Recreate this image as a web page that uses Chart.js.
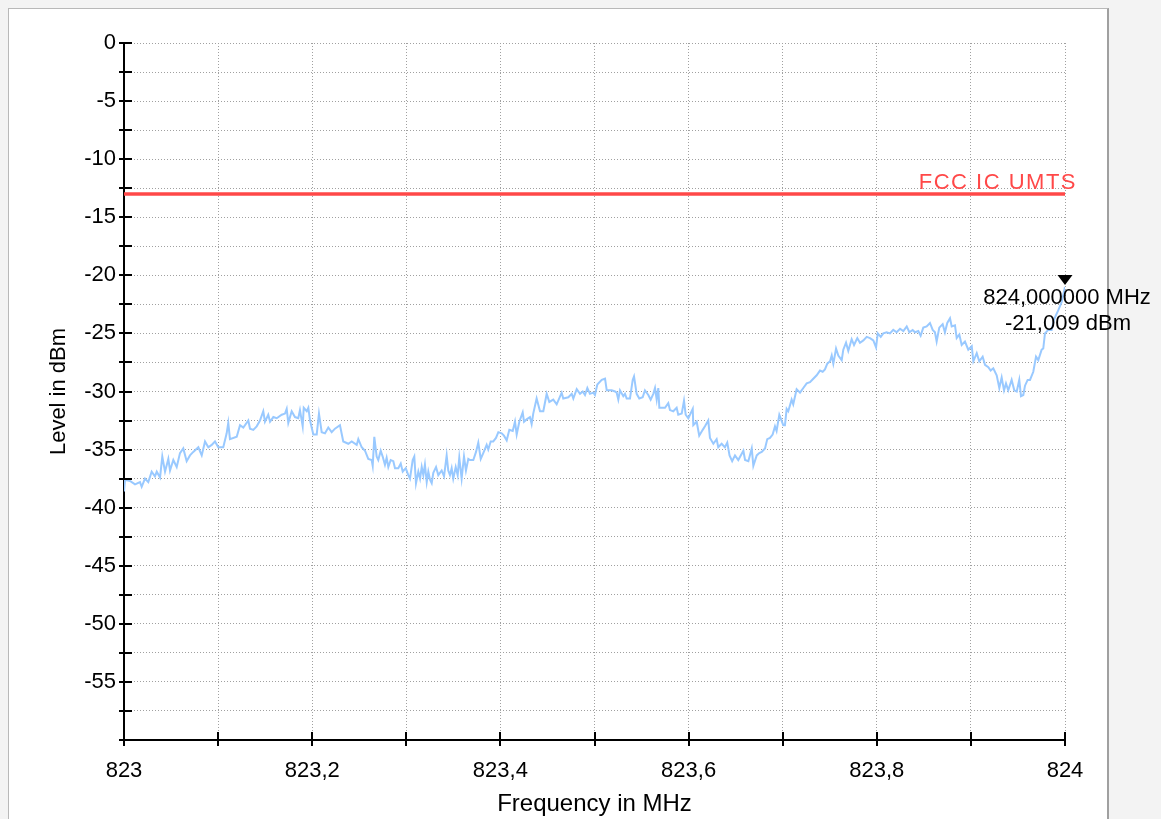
<!DOCTYPE html>
<html>
<head>
<meta charset="utf-8">
<script src="https://cdn.jsdelivr.net/npm/chart.js@4.4.1/dist/chart.umd.min.js"></script>
<style>
  html, body { margin: 0; padding: 0; background: #f3f3f3; overflow: hidden; }
  #frame { position: absolute; left: 8px; top: 8px; width: 1098px; height: 830px; background: #fff;
           border-left: 1px solid #b8b8b8; border-top: 1px solid #b8b8b8; border-right: 2px solid #a0a0a0; }
  #chart { position: absolute; left: 0; top: 0; }
</style>
</head>
<body>
<div id="frame"></div>
<canvas id="chart" width="1161" height="819"></canvas>
<script>
// spectrum trace (MHz / dBm)
const freqMHz = [
  823.0000, 823.0011, 823.0064, 823.0117, 823.0170, 823.0188, 823.0223, 823.0258, 823.0294, 823.0329,
  823.0348, 823.0383, 823.0407, 823.0436, 823.0471, 823.0489, 823.0524, 823.0560, 823.0595, 823.0630,
  823.0666, 823.0701, 823.0736, 823.0790, 823.0826, 823.0861, 823.0896, 823.0932, 823.0967, 823.1002,
  823.1055, 823.1091, 823.1108, 823.1126, 823.1198, 823.1233, 823.1268, 823.1321, 823.1339, 823.1374,
  823.1410, 823.1445, 823.1480, 823.1498, 823.1533, 823.1552, 823.1587, 823.1623, 823.1676, 823.1711,
  823.1729, 823.1746, 823.1782, 823.1817, 823.1852, 823.1870, 823.1899, 823.1910, 823.1942, 823.1959,
  823.1977, 823.2012, 823.2048, 823.2072, 823.2101, 823.2136, 823.2171, 823.2207, 823.2242, 823.2295,
  823.2330, 823.2384, 823.2420, 823.2473, 823.2490, 823.2526, 823.2561, 823.2596,
  823.2632, 823.2643, 823.2660, 823.2685, 823.2702, 823.2728, 823.2749, 823.2773, 823.2791, 823.2809,
  823.2834, 823.2862, 823.2880, 823.2915, 823.2941, 823.2962, 823.2994, 823.3021, 823.3039, 823.3068,
  823.3085, 823.3103, 823.3128, 823.3146, 823.3164, 823.3181, 823.3198, 823.3217, 823.3234, 823.3252,
  823.3270, 823.3287, 823.3316, 823.3340, 823.3376, 823.3401, 823.3429, 823.3446, 823.3464, 823.3482,
  823.3499, 823.3525, 823.3546, 823.3563, 823.3588, 823.3613, 823.3634, 823.3659, 823.3677, 823.3712,
  823.3741, 823.3765, 823.3791, 823.3818, 823.3854, 823.3871, 823.3897, 823.3924, 823.3953, 823.3978,
  823.4014, 823.4038, 823.4067, 823.4095, 823.4131, 823.4155, 823.4173, 823.4201, 823.4237, 823.4251,
  823.4279, 823.4314, 823.4332, 823.4349, 823.4385, 823.4421, 823.4456, 823.4492, 823.4520, 823.4562,
  823.4598, 823.4651, 823.4668, 823.4722, 823.4758, 823.4775, 823.4811, 823.4846, 823.4875, 823.4899,
  823.4924, 823.4952, 823.4987, 823.5005, 823.5030, 823.5077, 823.5112, 823.5130,
  823.5183, 823.5218, 823.5236, 823.5253, 823.5271, 823.5306, 823.5324, 823.5342, 823.5377, 823.5406,
  823.5420, 823.5448, 823.5476, 823.5512, 823.5536, 823.5572, 823.5597, 823.5625, 823.5643, 823.5661,
  823.5678, 823.5689, 823.5714, 823.5749, 823.5784, 823.5802, 823.5837, 823.5873, 823.5890, 823.5927,
  823.5951, 823.5969, 823.5997, 823.6044, 823.6050, 823.6086, 823.6113, 823.6150, 823.6174, 823.6209,
  823.6227, 823.6263, 823.6298, 823.6315, 823.6351, 823.6386, 823.6411, 823.6435, 823.6463, 823.6493,
  823.6528, 823.6582, 823.6600, 823.6635, 823.6671, 823.6688, 823.6724, 823.6751, 823.6777, 823.6812,
  823.6836, 823.6865, 823.6893, 823.6918, 823.6935, 823.6964, 823.7006, 823.7024, 823.7042, 823.7059,
  823.7095, 823.7112, 823.7148, 823.7184,
  823.7219, 823.7255, 823.7290, 823.7325, 823.7361, 823.7396, 823.7425, 823.7449, 823.7474, 823.7503,
  823.7521, 823.7538, 823.7567, 823.7591, 823.7627, 823.7644, 823.7673, 823.7697, 823.7733, 823.7758,
  823.7793, 823.7821, 823.7857, 823.7893, 823.7928, 823.7963, 823.7992, 823.8010, 823.8042, 823.8069,
  823.8105, 823.8140, 823.8175, 823.8211, 823.8247, 823.8282, 823.8318, 823.8346, 823.8381, 823.8406,
  823.8441, 823.8466, 823.8494, 823.8530, 823.8565, 823.8594, 823.8618, 823.8636, 823.8664, 823.8700,
  823.8724, 823.8749, 823.8778, 823.8796, 823.8831, 823.8849, 823.8877, 823.8902, 823.8937, 823.8972,
  823.9009, 823.9026, 823.9062, 823.9089, 823.9125, 823.9150, 823.9185, 823.9210, 823.9238, 823.9274,
  823.9302, 823.9327, 823.9352, 823.9373, 823.9397, 823.9433, 823.9461, 823.9487, 823.9514, 823.9532,
  823.9557, 823.9575, 823.9603, 823.9628, 823.9663, 823.9692, 823.9716, 823.9752, 823.9769, 823.9787,
  823.9822, 823.9858, 823.9883, 823.9929, 823.9965, 824.0000
];
const levelDbm = [
  -38.6, -37.6, -37.7, -38.0, -37.8, -38.2, -37.5, -37.8, -36.9, -37.3,
  -36.9, -37.4, -35.6, -36.9, -35.8, -36.8, -35.9, -36.5, -35.3, -34.9,
  -36.0, -35.5, -35.2, -34.8, -35.5, -34.3, -34.8, -34.6, -34.3, -34.8,
  -34.8, -33.6, -32.7, -34.1, -33.9, -32.9, -33.1, -32.5, -33.2, -33.3,
  -33.0, -32.5, -31.7, -32.6, -32.0, -32.6, -32.2, -32.3, -32.0, -31.9,
  -31.5, -32.7, -31.7, -32.2, -32.3, -31.6, -33.0, -31.4, -31.7, -31.4,
  -32.5, -33.7, -33.7, -31.9, -33.5, -33.6, -33.1, -33.5, -33.2, -32.9,
  -34.3, -34.5, -34.3, -34.6, -34.1, -34.8, -35.1, -35.8,
  -35.9, -36.4, -33.9, -35.6, -35.9, -35.1, -35.6, -36.3, -35.7, -36.5,
  -35.9, -36.0, -36.6, -36.6, -36.2, -36.9, -36.6, -37.2, -37.5, -35.9,
  -35.6, -37.9, -36.9, -37.5, -36.5, -37.2, -36.3, -37.8, -36.9, -37.6,
  -37.9, -37.0, -36.5, -37.2, -36.8, -37.3, -35.5, -36.8, -37.2, -36.6,
  -37.5, -36.5, -37.2, -35.7, -37.5, -35.6, -36.8, -35.8, -35.9, -35.9,
  -35.2, -34.4, -35.8, -35.3, -34.6, -35.0, -34.3, -34.3, -34.0, -33.5,
  -33.6, -33.8, -34.2, -33.3, -33.4, -32.6, -33.7, -32.6, -31.8, -32.6,
  -32.4, -32.2, -32.8, -31.9, -30.6, -31.7, -31.7, -30.2, -30.9, -30.7,
  -31.1, -30.1, -30.6, -30.5, -30.2, -30.6, -29.8, -30.2, -30.0, -30.3,
  -29.7, -30.2, -30.1, -30.3, -29.4, -29.0, -28.9, -29.9,
  -29.9, -30.0, -30.1, -30.7, -29.9, -30.4, -30.2, -30.6, -30.6, -29.0,
  -28.7, -30.2, -30.6, -30.5, -29.9, -30.3, -30.7, -30.2, -29.7, -30.7,
  -29.7, -31.4, -31.4, -31.4, -31.0, -31.6, -31.7, -31.4, -32.0, -31.9,
  -30.8, -32.0, -32.3, -31.5, -32.9, -32.6, -33.8, -33.3, -33.0, -32.5,
  -34.0, -34.5, -34.1, -34.8, -34.5, -34.8, -34.4, -35.5, -36.0, -35.5,
  -35.9, -35.1, -35.9, -36.0, -34.9, -36.4, -35.5, -35.3, -35.2, -34.9,
  -34.1, -34.0, -33.7, -33.0, -33.4, -32.0, -32.9, -32.9, -31.5, -31.7,
  -30.7, -31.1, -29.8, -30.1,
  -29.7, -29.3, -29.2, -28.9, -28.6, -28.2, -28.3, -28.1, -27.6, -27.4,
  -26.9, -27.6, -26.3, -26.9, -27.3, -26.4, -25.8, -26.5, -25.5, -26.0,
  -25.4, -25.8, -25.6, -25.3, -25.4, -25.6, -26.2, -25.0, -25.3, -25.0,
  -24.9, -25.0, -24.7, -24.9, -24.6, -24.8, -24.4, -24.9, -24.7, -24.9,
  -24.8, -25.2, -24.5, -24.4, -24.1, -24.7, -24.9, -25.7, -24.5, -24.2,
  -24.9, -24.1, -23.7, -24.4, -24.3, -25.4, -25.1, -26.0, -25.7, -26.4,
  -26.1, -27.4, -26.7, -27.4, -27.0, -27.7, -27.9, -28.2, -28.0, -28.6,
  -29.7, -28.8, -29.9, -29.3, -29.9, -29.0, -29.9, -30.0, -29.0, -30.4,
  -30.3, -29.5, -29.0, -29.0, -28.3, -27.0, -27.3, -26.4, -26.3, -25.0,
  -24.7, -24.7, -23.8, -23.0, -22.3, -21.009
];

// limit line
const limitName = 'FCC IC UMTS';
const limitFreq = [823, 824];
const limitLevel = [-13, -13];

// marker
const markerFreq = 824;
const markerLevel = -21.009;

const fontFamily = '"Liberation Sans", Arial, sans-serif';
Chart.defaults.font.family = fontFamily;
Chart.defaults.font.size = 22;
Chart.defaults.color = '#000';

const comma = (v, d) => v.toFixed(d).replace('.', ',');

const decor = {
  id: 'decor',
  afterDraw(chart) {
    const { ctx, chartArea, scales: { x, y } } = chart;
    ctx.save();
    ctx.strokeStyle = '#000';
    ctx.lineWidth = 2;
    // tick marks crossing the axes
    y.ticks.forEach(t => {
      const py = Math.round(y.getPixelForValue(t.value));
      ctx.beginPath();
      ctx.moveTo(chartArea.left - 5, py);
      ctx.lineTo(chartArea.left + 8, py);
      ctx.stroke();
    });
    x.ticks.forEach(t => {
      const px = Math.round(x.getPixelForValue(t.value));
      ctx.beginPath();
      ctx.moveTo(px, chartArea.bottom - 8);
      ctx.lineTo(px, chartArea.bottom + 6);
      ctx.stroke();
    });

    // limit label
    const ly = y.getPixelForValue(limitLevel[1]);
    ctx.fillStyle = '#ff4848';
    ctx.font = '22px ' + fontFamily;
    ctx.textAlign = 'right';
    ctx.textBaseline = 'alphabetic';
    ctx.letterSpacing = '1.5px';
    ctx.fillText(limitName, x.getPixelForValue(limitFreq[1]) + 12, ly - 5);
    ctx.letterSpacing = '0px';

    // marker
    const mx = x.getPixelForValue(markerFreq);
    const my = y.getPixelForValue(markerLevel);
    ctx.fillStyle = '#000';
    ctx.beginPath();
    ctx.moveTo(mx - 7.5, my - 12);
    ctx.lineTo(mx + 7.5, my - 12);
    ctx.lineTo(mx, my - 2);
    ctx.closePath();
    ctx.fill();
    ctx.textAlign = 'center';
    ctx.fillText(comma(markerFreq, 6) + ' MHz', mx + 2, my + 17);
    ctx.fillText(comma(markerLevel, 3) + ' dBm', mx + 3, my + 43);
    ctx.restore();
  }
};

new Chart(document.getElementById('chart'), {
  type: 'line',
  data: {
    datasets: [
      {
        label: 'Trace',
        data: freqMHz.map((f, i) => ({ x: f, y: levelDbm[i] })),
        borderColor: '#99c9ff',
        borderWidth: 2,
        pointRadius: 0,
        tension: 0
      },
      {
        label: limitName,
        data: limitFreq.map((f, i) => ({ x: f, y: limitLevel[i] })),
        borderColor: '#ff4848',
        borderWidth: 3.5,
        pointRadius: 0
      }
    ]
  },
  options: {
    responsive: false,
    animation: false,
    devicePixelRatio: 1,
    layout: { padding: { top: 43, right: 96, bottom: 0, left: 0 } },
    plugins: { legend: { display: false }, tooltip: { enabled: false } },
    scales: {
      x: {
        type: 'linear',
        min: 823,
        max: 824,
        afterFit(s) { s.height = 79; },
        ticks: {
          stepSize: 0.1,
          autoSkip: false,
          maxRotation: 0,
          padding: 18,
          callback(v) {
            const k = Math.round(v * 10);
            return k % 2 === 0 ? String(k / 10).replace('.', ',') : '';
          }
        },
        grid: { color: '#a0a0a0', lineWidth: 1, drawTicks: false },
        border: { display: true, color: '#000', width: 2, dash: [1, 2] },
        title: { display: true, text: 'Frequency in MHz', font: { size: 24 }, padding: { top: 0, bottom: 0 } }
      },
      y: {
        type: 'linear',
        min: -60,
        max: 0,
        afterFit(s) { s.width = 124; },
        ticks: {
          stepSize: 2.5,
          autoSkip: false,
          padding: 8,
          callback(v) { return (v % 5 === 0 && v > -60) ? String(v) : ''; }
        },
        grid: { color: '#a0a0a0', lineWidth: 1, drawTicks: false },
        border: { display: true, color: '#000', width: 2, dash: [1, 2] },
        title: { display: true, text: 'Level in dBm', padding: { top: 46, bottom: 0 } }
      }
    }
  },
  plugins: [decor]
});
</script>
</body>
</html>
